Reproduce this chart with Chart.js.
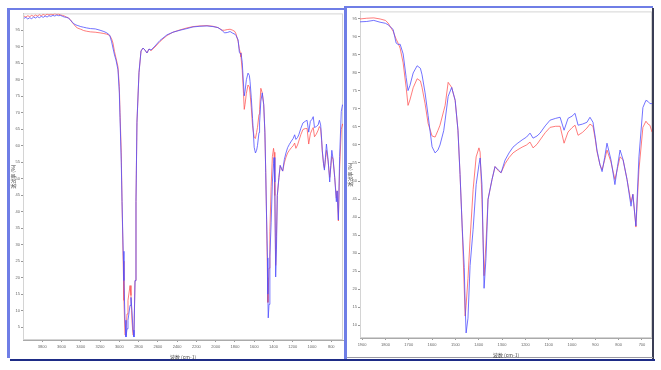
<!DOCTYPE html>
<html><head><meta charset="utf-8">
<script src="https://cdn.jsdelivr.net/npm/chart.js@4/dist/chart.umd.min.js"></script>
<style>
html,body{margin:0;padding:0;background:#fff;width:661px;height:370px;overflow:hidden;position:relative;font-family:"Liberation Sans",sans-serif}
canvas{position:absolute}
.d{position:absolute}
</style></head><body>
<div class="d" style="left:7px;top:8px;width:3px;height:350px;background:#6f7ee6"></div>
<div class="d" style="left:7px;top:8px;width:340px;height:2px;background:#6f7ee6"></div>
<div class="d" style="left:10px;top:359px;width:335px;height:2px;background:#1e2c86"></div>
<canvas id="c1" width="335" height="350" style="left:10px;top:10px"></canvas>
<div class="d" style="left:344px;top:6px;width:3px;height:353px;background:#6f7ee6"></div>
<div class="d" style="left:344px;top:6px;width:309px;height:2px;background:#6f7ee6"></div>
<div class="d" style="left:652px;top:8px;width:2px;height:352px;background:#3a3d55"></div>
<div class="d" style="left:347px;top:357px;width:306px;height:1px;background:#9a9aa4"></div>
<div class="d" style="left:343px;top:359px;width:312px;height:2px;background:#1e2c86"></div>
<canvas id="c2" width="305" height="350" style="left:347px;top:8px"></canvas>
<script>
const wavenumbers = [3990,3970,3950,3930,3910,3890,3870,3850,3830,3810,3790,3770,3750,3730,3710,3690,3670,3650,3630,3610,3590,3570,3550,3530,3510,3490,3470,3450,3430,3400,3370,3340,3300,3250,3200,3160,3130,3100,3080,3066,3050,3035,3014,3000,2993,2980,2972,2960,2952,2941,2931,2920,2910,2889,2879,2869,2858,2848,2837,2827,2817,2796,2775,2754,2734,2713,2692,2671,2630,2578,2505,2443,2370,2298,2235,2163,2090,2028,1976,1934,1909,1880,1850,1823,1800,1789,1767,1754,1745,1737,1724,1711,1703,1695,1681,1664,1650,1643,1630,1617,1600,1587,1575,1566,1550,1544,1531,1516,1501,1489,1480,1471,1462,1458,1454,1446,1437,1424,1411,1399,1394,1386,1377,1369,1360,1343,1330,1315,1304,1287,1270,1253,1235,1214,1195,1180,1167,1150,1137,1115,1094,1070,1051,1034,1017,1000,987,974,955,936,923,910,900,893,880,871,860,850,833,816,805,794,781,764,747,739,726,713,696,683,674,666,657];
const blueSample = [98.6,98.9,98.4,98.8,98.5,99.0,98.7,99.1,98.8,99.2,98.9,99.3,99.0,99.4,99.2,99.5,99.3,99.6,99.4,99.5,99.2,99.0,98.9,98.7,98.2,97.5,96.9,96.6,96.4,96.1,95.9,95.7,95.5,95.4,95.0,94.6,94.2,93.5,91.5,89.6,87.5,86.0,83.0,76.0,68.6,55.0,43.1,28.0,19.1,7.1,2.0,4.5,7.1,11.6,14.0,10.1,4.1,2.0,19.1,43.1,67.1,82.1,88.7,89.6,89.0,88.1,89.3,89.0,90.2,91.9,93.6,94.4,95.0,95.5,96.0,96.2,96.3,96.1,95.8,95.0,94.2,94.3,94.6,94.1,93.8,93.4,92.1,88.3,87.9,88.0,85.3,78.7,75.1,76.5,80.0,82.0,81.3,79.5,74.5,68.2,59.5,57.8,58.6,60.0,64.0,66.9,73.5,76.0,72.4,64.1,51.8,37.5,26.0,15.0,7.8,11.9,26.5,36.6,49.0,54.5,56.4,49.0,20.2,28.4,44.9,50.4,54.0,53.0,52.3,55.8,57.8,59.4,60.4,61.4,62.2,63.3,61.9,62.5,63.3,65.3,66.9,67.4,67.7,64.1,67.4,68.0,68.8,65.5,65.8,66.3,67.7,66.3,62.0,58.6,54.5,52.6,56.5,60.5,55.9,49.0,54.0,58.6,55.9,50.4,43.0,46.3,37.5,56.7,70.4,72.4,72.1,71.5,71.5];
const redReference = [99.3,99.0,99.4,99.1,99.5,99.2,99.6,99.3,99.7,99.4,99.8,99.5,99.9,99.6,99.9,99.7,100.0,99.8,99.9,99.6,99.5,99.3,99.0,98.8,98.2,97.4,96.7,96.0,95.6,95.3,94.9,94.7,94.5,94.4,94.2,94.0,93.8,93.4,92.4,91.1,88.5,86.6,83.9,78.0,70.1,58.0,43.1,25.0,13.1,2.6,4.1,9.0,13.1,17.6,14.6,7.1,2.6,4.1,19.1,43.1,67.1,82.1,88.7,89.6,89.0,88.1,89.3,88.8,89.9,91.6,93.4,94.4,95.1,95.7,96.1,96.3,96.4,96.2,95.8,95.0,95.0,95.2,95.3,95.0,94.6,93.9,91.6,89.4,88.2,86.9,82.8,75.9,71.0,72.5,75.9,78.4,77.8,76.0,71.5,66.0,62.5,62.2,64.0,65.5,69.5,71.0,77.4,76.0,72.4,64.1,51.8,37.5,20.0,12.5,15.5,22.9,33.9,47.6,56.7,59.2,58.0,44.9,23.7,32.5,44.9,50.4,54.0,52.8,52.3,54.8,56.5,57.8,58.6,59.4,60.0,60.8,59.2,60.2,61.4,63.4,64.9,65.2,65.2,60.5,63.6,64.8,65.5,62.7,63.5,64.7,65.8,65.2,61.5,58.2,54.5,53.1,55.8,58.6,55.3,50.4,53.5,56.7,55.9,50.4,44.1,46.3,37.2,53.1,64.9,66.6,65.8,65.5,63.6];
const leftXTicks = [3800,3600,3400,3200,3000,2800,2600,2400,2200,2000,1800,1600,1400,1200,1000,800];
const leftYTicks = [5,10,15,20,25,30,35,40,45,50,55,60,65,70,75,80,85,90,95];
const rightXTicks = [1900,1800,1700,1600,1500,1400,1300,1200,1100,1000,900,800,700];
const rightYTicks = [10,15,20,25,30,35,40,45,50,55,60,65,70,75,80,85,90,95];
const xTitle = '波数 (cm-1)';
const yTitle = '透过率 (%)';

function pts(arr){ return wavenumbers.map((w,i)=>({x:w,y:arr[i]})); }

const framePlugin = {
  id:'frame',
  beforeDatasetsDraw(chart){
    const a = chart.chartArea, c = chart.ctx;
    c.save(); c.strokeStyle='#d4d4d4'; c.lineWidth=1;
    c.strokeRect(a.left+0.5,a.top+0.5,a.right-a.left-1,a.bottom-a.top-1);
    c.restore();
  }
};

function makeChart(id, xmin, xmax, ymin, ymax, xt, yt, pad){
  const tickFont = {family:'Liberation Sans', size:4};
  const titleFont = {family:'Noto Sans CJK SC', size:5};
  return new Chart(document.getElementById(id), {
    type:'scatter',
    data:{datasets:[
      {data:pts(blueSample), showLine:true, borderColor:'rgba(80,80,255,0.8)', borderWidth:1, pointRadius:0, tension:0},
      {data:pts(redReference), showLine:true, borderColor:'rgba(255,80,80,0.75)', borderWidth:1, pointRadius:0, tension:0}
    ]},
    options:{
      responsive:false, animation:false, devicePixelRatio:1,
      layout:{padding:pad},
      plugins:{legend:{display:false}, tooltip:{enabled:false}},
      scales:{
        x:{type:'linear', reverse:true, min:xmin, max:xmax,
          afterBuildTicks(s){ s.ticks = xt.map(v=>({value:v})); },
          afterFit(s){ s.height = 20; },
          ticks:{font:tickFont, color:'#666', maxRotation:0, autoSkip:false, padding:2, callback:v=>String(v)},
          grid:{drawOnChartArea:false, tickLength:2, color:'#999'},
          border:{color:'#aaa', dash:[1,1]},
          title:{display:true, text:xTitle, font:titleFont, color:'#444', padding:{top:0,bottom:0}}
        },
        y:{type:'linear', min:ymin, max:ymax,
          afterBuildTicks(s){ s.ticks = yt.map(v=>({value:v})); },
          afterFit(s){ s.width = 13; },
          ticks:{font:tickFont, color:'#666', padding:1, callback:v=>String(v)},
          grid:{drawOnChartArea:false, tickLength:2, color:'#999'},
          border:{color:'#aaa', dash:[1,1]},
          title:{display:true, text:yTitle, font:titleFont, color:'#444', padding:{top:0,bottom:0}}
        }
      }
    },
    plugins:[framePlugin]
  });
}

makeChart('c1', 678, 4000, 1.1, 100.1, leftXTicks, leftYTicks, {left:0,right:2,top:0,bottom:0});
makeChart('c2', 657, 1909, 6.4, 97.1, rightXTicks, rightYTicks, {left:0,right:0,top:2,bottom:0});
</script>
</body></html>
